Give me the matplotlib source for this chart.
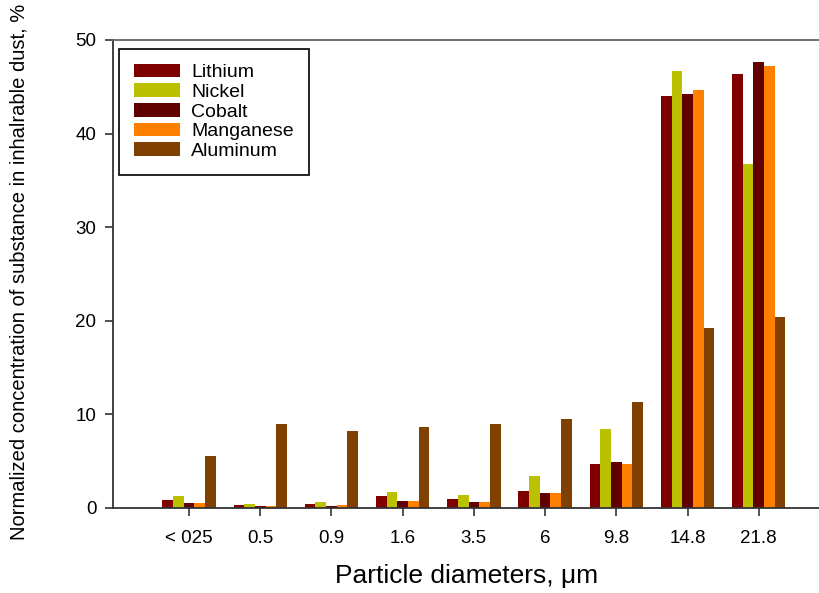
import numpy as np
import matplotlib.pyplot as plt

plt.rcParams['font.family'] = ['Liberation Sans', 'DejaVu Sans']

# Data
sizes = ["< 025", "0.5", "0.9", "1.6", "3.5", "6", "9.8", "14.8", "21.8"]
lithium = [0.85, 0.29, 0.39, 1.25, 0.99, 1.78, 4.67, 44.05, 46.37]
nickel = [1.28, 0.43, 0.64, 1.75, 1.42, 3.42, 8.40, 46.70, 36.75]
cobalt = [0.50, 0.18, 0.25, 0.71, 0.60, 1.60, 4.91, 44.20, 47.65]
manganese = [0.53, 0.21, 0.32, 0.75, 0.64, 1.60, 4.70, 44.70, 47.26]
aluminum = [5.56, 8.97, 8.23, 8.62, 8.94, 9.54, 11.29, 19.20, 20.37]

series = [("Lithium", lithium, "#800000"),
          ("Nickel", nickel, "#bbc000"),
          ("Cobalt", cobalt, "#600000"),
          ("Manganese", manganese, "#ff8000"),
          ("Aluminum", aluminum, "#804000")]

fig = plt.figure(figsize=(8.2, 5.93), dpi=100)
ax = fig.add_axes([113 / 820, 1 - 508 / 593, 1 - 113 / 820, 468 / 593])

x = np.arange(len(sizes))
w = 0.15
for i, (name, vals, col) in enumerate(series):
    ax.bar(x + (i - 2) * w, vals, w, color=col, label=name)

ax.set_xlim(-1.067, 8.86)
ax.set_ylim(0, 50)
ax.set_xticks(x)
ax.set_xticklabels(sizes)
ax.set_yticks([0, 10, 20, 30, 40, 50])
ax.tick_params(direction='out', length=6, width=1.2, labelsize=13.5, color='#333333')
ax.tick_params(axis='x', pad=10)
ax.tick_params(axis='y', pad=6)

ax.spines['right'].set_visible(False)
for s in ['left', 'bottom', 'top']:
    ax.spines[s].set_linewidth(1.3)
    ax.spines[s].set_color('#333333')
ax.spines['top'].set_color('#666666')

ax.set_xlabel("Particle diameters, \u03bcm", fontsize=19, labelpad=12)
ax.set_ylabel("Normalized concentration of substance in inhalrable dust, %", fontsize=14.5)
ax.yaxis.set_label_coords(-84 / 707, 0.505)

leg = ax.legend(loc='upper left', bbox_to_anchor=(6 / 707, 1 - 9 / 468), borderaxespad=0,
                fontsize=14, handlelength=2.4, handleheight=0.72, labelspacing=0.1,
                handletextpad=0.57, borderpad=0.75, fancybox=False, framealpha=1)
leg.get_frame().set_edgecolor('black')
leg.get_frame().set_linewidth(1.2)

fig.savefig("out.png", dpi=100)
